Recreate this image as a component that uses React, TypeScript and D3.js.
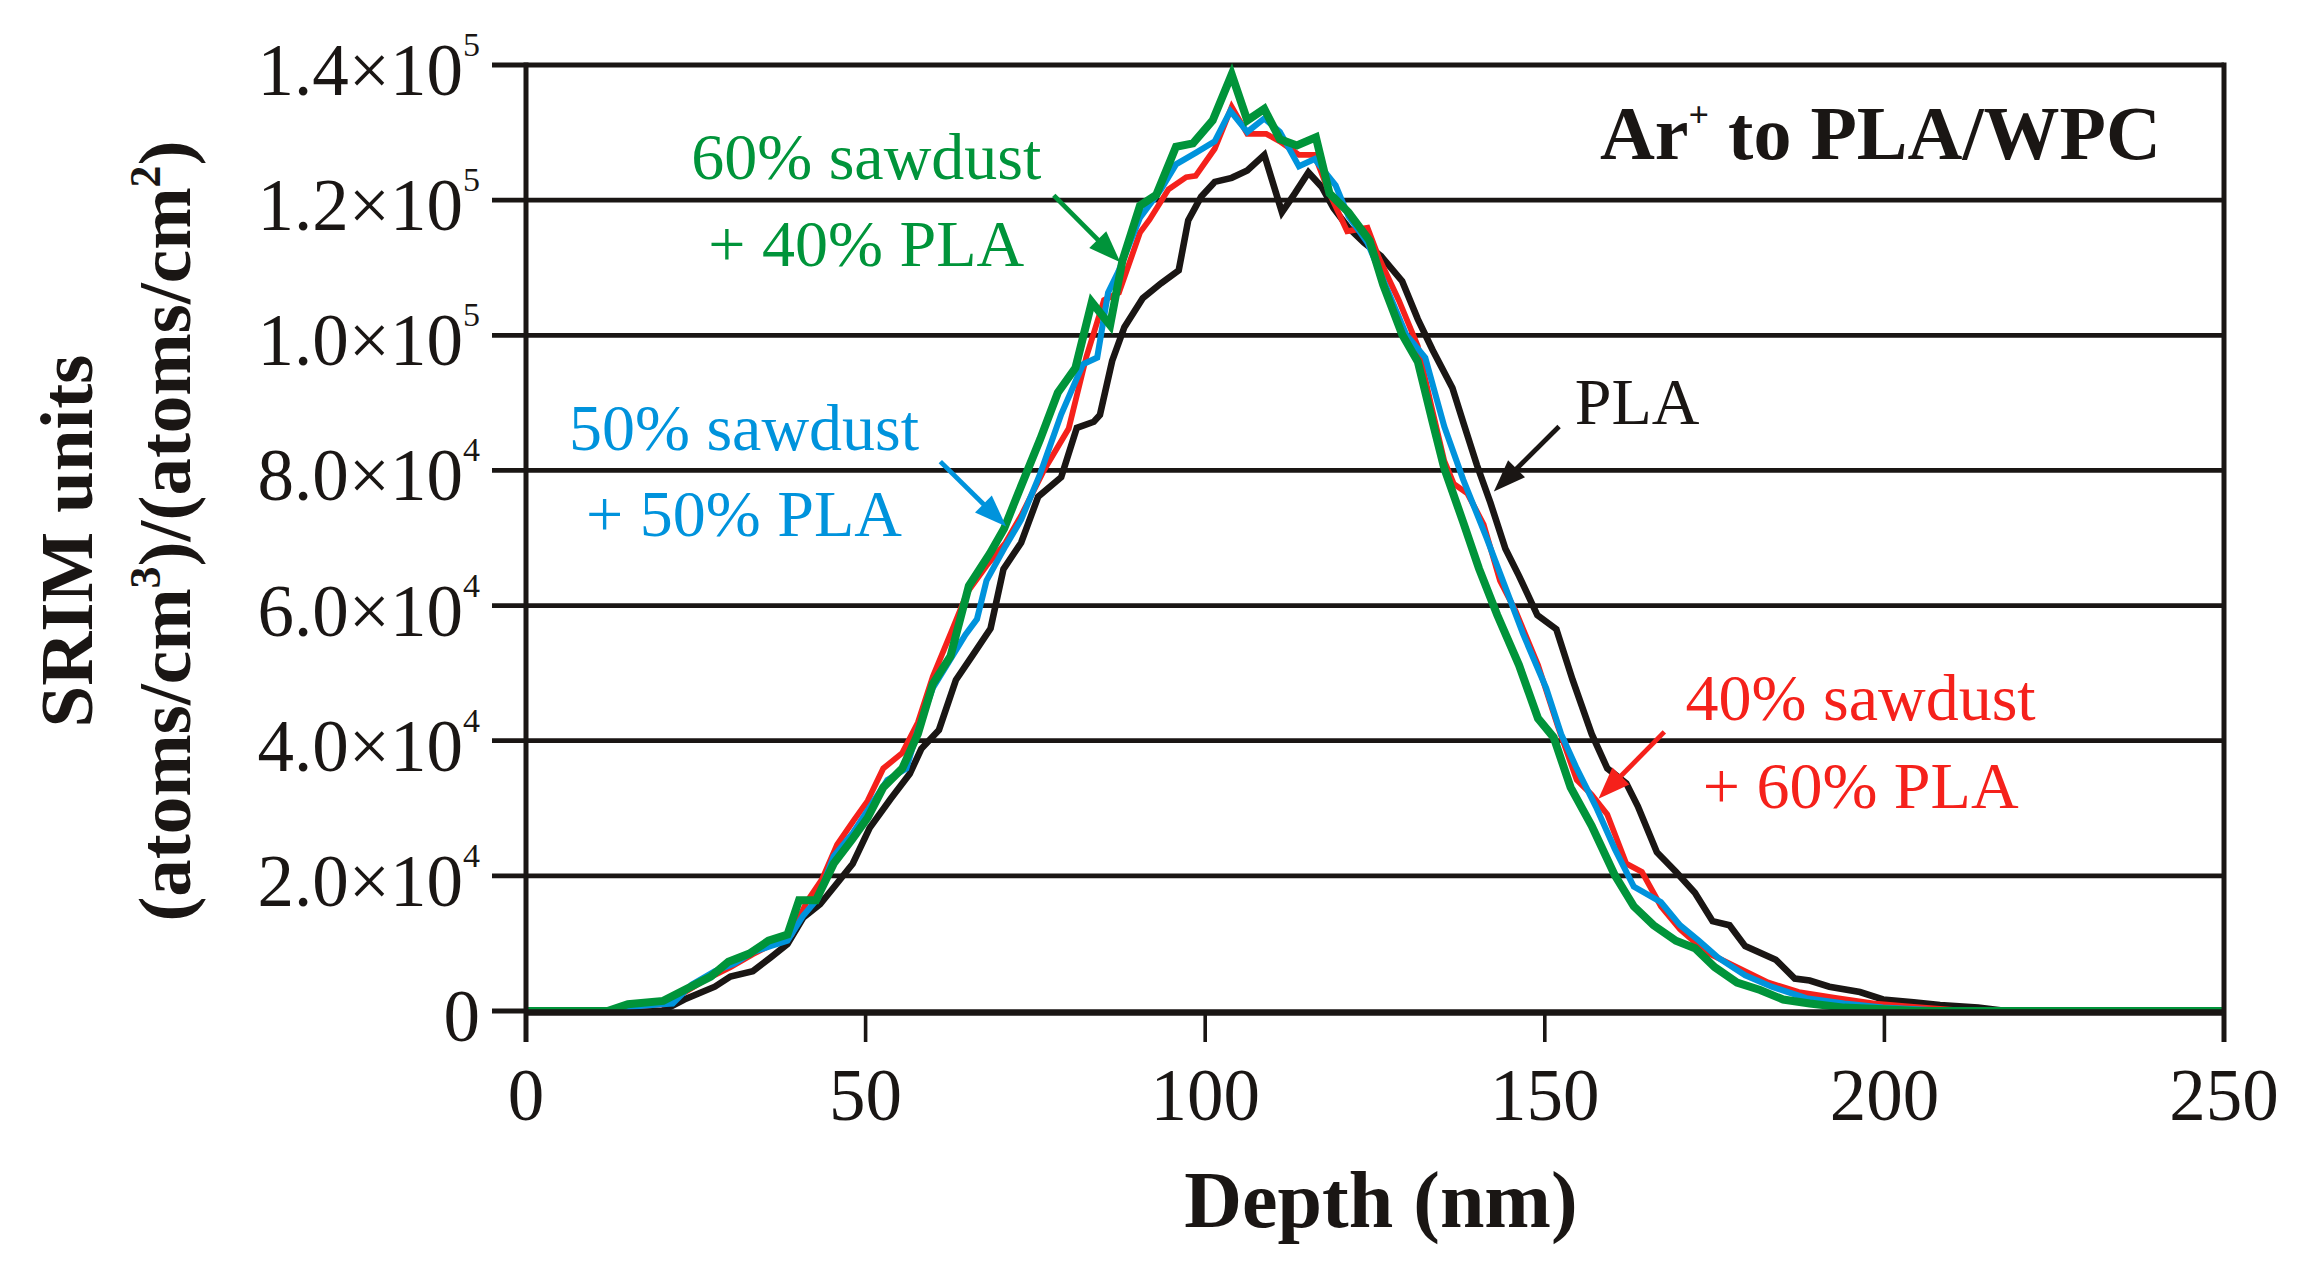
import React from "react";
import * as d3 from "d3";

// ---- data (depth in nm, SRIM value) ----
const xTicks = [0, 50, 100, 150, 200, 250];
const yTicks = [0, 20000, 40000, 60000, 80000, 100000, 120000, 140000];
const yTickMantissa = ["0", "2.0×10", "4.0×10", "6.0×10", "8.0×10", "1.0×10", "1.2×10", "1.4×10"];
const yTickExponent = ["", "4", "4", "4", "4", "5", "5", "5"];

const pla: [number, number][] = [
  [0, 0], [20, 0], [21.6, 800], [23.3, 1700], [27.8, 3600], [30.1, 5100], [33.4, 5900], [36.0, 7900],
  [38.5, 9900], [40.8, 13800], [43.3, 15800], [45.8, 18900], [48.1, 21800], [50.6, 27100], [53.7, 31400],
  [56.5, 35100], [58.2, 38800], [60.8, 41600], [63.3, 49000], [65.8, 52700], [68.4, 56600], [70.3, 65400],
  [72.9, 69300], [75.4, 76100], [78.8, 79000], [81.1, 86300], [83.6, 87200], [84.5, 88200], [86.3, 96200],
  [88.1, 101200], [90.8, 105500], [93.5, 107700], [96.1, 109600], [97.5, 117000], [99.4, 120500],
  [101.4, 122700], [103.9, 123300], [106.2, 124400], [108.7, 126700], [111.3, 118200], [113.2, 121000],
  [115.2, 124100], [117.2, 121900], [118.9, 118800], [121.1, 115900], [123.4, 113700], [125.9, 111700],
  [129.0, 108000], [131.3, 102400], [133.5, 97800], [136.4, 92200], [138.0, 87100], [140.0, 80800],
  [142.0, 75200], [144.2, 68400], [146.2, 64400], [148.9, 58600], [151.7, 56500], [154.1, 49000],
  [156.9, 41000], [159.2, 35900], [162.0, 33700], [163.7, 30300], [166.5, 23500], [169.3, 20600],
  [172.1, 17500], [174.7, 13300], [177.2, 12700], [179.5, 9600], [184.0, 7600], [186.8, 4800],
  [189.0, 4500], [191.9, 3600], [196.4, 2800], [199.8, 1700], [204.3, 1300], [208.2, 900], [213.8, 500],
  [218, 0], [250, 0],
];

const sawdust40: [number, number][] = [
  [0, 0], [12, 0], [15, 600], [20.5, 1000], [26.7, 4800], [30.1, 6500], [33.4, 8400], [36.3, 9900],
  [39.1, 11300], [41.3, 16100], [43.6, 19500], [45.8, 24600], [48.1, 28000], [50.3, 31100], [52.6, 35900],
  [55.4, 38200], [57.7, 42700], [59.9, 49500], [62.7, 56300], [65.0, 62000], [67.8, 65900], [70.6, 69300],
  [72.9, 73300], [76.3, 80100], [79.9, 86200], [82.5, 96800], [85.1, 105200], [87.3, 106300],
  [90.4, 115200], [91.8, 117100], [94.6, 121600], [97.2, 123400], [98.6, 123600], [101.4, 127600],
  [103.9, 133800], [106.2, 129800], [109.0, 129800], [111.0, 128700], [113.8, 126700], [116.1, 126700],
  [118.3, 121000], [120.9, 115400], [123.9, 115900], [125.6, 111400], [128.5, 105200], [131.3, 98400],
  [133.3, 89500], [135.2, 81400], [136.6, 78000], [138.6, 76600], [141.0, 72000], [143.4, 63700],
  [145.7, 59200], [149.0, 51200], [151.9, 42200], [154.7, 34200], [156.9, 32000], [159.2, 29100],
  [162.0, 21800], [164.3, 20600], [167.1, 15500], [169.9, 12100], [173.8, 8700], [177.2, 7000],
  [182.9, 4200], [187.4, 2800], [193.0, 1900], [198.6, 1100], [204.3, 600], [208.2, 300], [212, 0], [250, 0],
];

const sawdust50: [number, number][] = [
  [0, 0], [12, 0], [15, 600], [20, 1000], [21.6, 1100], [24.4, 3900], [27.8, 5900], [30.6, 7000],
  [33.4, 8700], [36.0, 9600], [38.5, 10400], [40.8, 14100], [43.0, 16700], [45.3, 22900], [48.1, 26300],
  [50.3, 29700], [53.2, 34200], [56.0, 35900], [57.7, 41600], [59.9, 47800], [62.7, 52400], [64.7, 55700],
  [66.4, 58000], [67.8, 63700], [70.6, 68800], [72.9, 72700], [75.7, 79500], [78.8, 88300], [82.0, 95700],
  [84.1, 96700], [85.7, 106300], [87.2, 109400], [90.4, 117400], [93.5, 121600], [95.7, 125300],
  [98.6, 127000], [101.4, 128700], [103.7, 133200], [106.2, 130100], [108.7, 132100], [111.0, 130100],
  [113.8, 125000], [116.1, 126100], [119.2, 122200], [121.1, 117600], [123.9, 113700], [126.5, 107500],
  [129.6, 100100], [132.4, 96700], [135.2, 86500], [138.0, 78600], [141.4, 70100], [143.4, 64800],
  [146.8, 55800], [150.2, 47800], [152.4, 41000], [154.7, 35900], [157.5, 30300], [160.3, 24000],
  [163.1, 18400], [167.1, 16100], [169.9, 12700], [172.7, 10400], [175.5, 7900], [179.5, 5300],
  [183.4, 3600], [188.5, 1900], [194.1, 1100], [199.8, 500], [205.4, 200], [210, 0], [250, 0],
];

const sawdust60: [number, number][] = [
  [0, 0], [12, 0], [15, 1000], [20.2, 1500], [27.2, 5100], [29.8, 7300], [32.9, 8500], [35.7, 10400],
  [38.5, 11300], [40.2, 16400], [42.7, 16400], [45.3, 21800], [48.1, 25500], [50.3, 28600], [52.6, 33100],
  [55.4, 35900], [57.7, 41000], [59.9, 48400], [62.5, 52500], [65.2, 62900], [68.3, 67700], [70.4, 71400],
  [72.5, 76700], [75.7, 84600], [78.3, 91500], [80.9, 95200], [83.3, 104900], [86.0, 101500],
  [87.8, 111000], [90.4, 119200], [92.8, 120800], [95.7, 127900], [98.2, 128400], [101.1, 131800],
  [103.9, 138600], [106.2, 131800], [108.7, 133500], [111.0, 129000], [113.5, 128100], [116.3, 129300],
  [118.3, 121000], [121.1, 118200], [124.2, 114000], [126.2, 107500], [129.0, 100100], [131.3, 96100],
  [133.5, 87100], [135.2, 80300], [138.0, 72300], [140.3, 65500], [143.0, 58600], [146.2, 51200],
  [149.0, 43300], [151.3, 40500], [153.8, 33100], [156.9, 27400], [160.3, 20100], [163.1, 15500],
  [166.0, 12700], [169.3, 10400], [172.1, 9300], [175.0, 6500], [178.3, 4200], [181.7, 3100],
  [185.1, 1700], [189.0, 1100], [194.1, 500], [201.4, 200], [205, 0], [250, 0],
];

const seriesNames = ["PLA", "40% sawdust + 60% PLA", "50% sawdust + 50% PLA", "60% sawdust + 40% PLA"];
const seriesData = [pla, sawdust40, sawdust50, sawdust60];
const seriesColors = ["#1a1614", "#f5211b", "#0093dc", "#00943a"];
const seriesWidths = [6.6, 5.8, 6.1, 8.0];

// annotation labels, anchored in data units (depth, value)
const labelLines = [
  { lines: ["60% sawdust", "+ 40% PLA"], x: 50.1, y: [123100, 110300], color: "#00943a" },
  { lines: ["50% sawdust", "+ 50% PLA"], x: 32.1, y: [83000, 70300], color: "#0093dc" },
  { lines: ["40% sawdust", "+ 60% PLA"], x: 196.5, y: [43100, 30000], color: "#f5211b" },
];
const arrows = [
  { from: [77.7, 120700], to: [87.5, 110800], color: "#00943a" },
  { from: [61.0, 81300], to: [70.7, 71700], color: "#0093dc" },
  { from: [167.6, 41300], to: [157.9, 31400], color: "#f5211b" },
  { from: [152.1, 86500], to: [142.5, 76900], color: "#1a1614" },
];
const plaLabel = { text: "PLA", x: 154.4, y: 86800 };
const titlePos = { x: 240.7, y: 126100 };

const W = 2313;
const H = 1283;
const M = { left: 526, right: 2224, top: 65, bottom: 1011 };
const FONT = "'Liberation Serif', 'Times New Roman', serif";
const INK = "#1a1614";

export default function App() {
  const x = d3.scaleLinear().domain([0, 250]).range([M.left, M.right]);
  const y = d3.scaleLinear().domain([0, 140000]).range([M.bottom, M.top]);
  const line = d3
    .line<[number, number]>()
    .x((d) => x(d[0]))
    .y((d) => y(d[1]));

  const arrowHead = (fx: number, fy: number, tx: number, ty: number) => {
    const ang = Math.atan2(ty - fy, tx - fx);
    const len = 32;
    const half = 12;
    const bx = tx - len * Math.cos(ang);
    const by = ty - len * Math.sin(ang);
    const px = -Math.sin(ang) * half;
    const py = Math.cos(ang) * half;
    return `M${tx},${ty}L${bx + px},${by + py}L${bx - px},${by - py}Z`;
  };

  return (
    <svg
      width={W}
      height={H}
      viewBox={`0 0 ${W} ${H}`}
      style={{ position: "absolute", left: 0, top: 0, background: "#fff" }}
      fontFamily={FONT}
    >
      <rect x={0} y={0} width={W} height={H} fill="#fff" />

      {/* gridlines + left ticks */}
      {yTicks.slice(1).map((t) => (
        <line key={`g${t}`} x1={M.left - 34} x2={M.right} y1={y(t)} y2={y(t)} stroke={INK} strokeWidth={4.8} />
      ))}
      <line x1={M.left - 34} x2={M.left} y1={y(0)} y2={y(0)} stroke={INK} strokeWidth={4.8} />

      {/* bottom ticks */}
      {xTicks.map((t) => (
        <line key={`xt${t}`} x1={x(t)} x2={x(t)} y1={M.bottom} y2={M.bottom + 31} stroke={INK} strokeWidth={3.6} />
      ))}

      {/* series */}
      {seriesData.map((s, i) => (
        <path
          key={seriesNames[i]}
          d={line(s) || ""}
          fill="none"
          stroke={seriesColors[i]}
          strokeWidth={seriesWidths[i]}
          strokeLinejoin="miter"
          strokeMiterlimit={3}
        />
      ))}

      {/* axes frame */}
      <line x1={M.left} x2={M.right} y1={M.bottom + 1.5} y2={M.bottom + 1.5} stroke={INK} strokeWidth={6.5} />
      <line x1={M.left} x2={M.left} y1={M.top - 2.4} y2={M.bottom + 31} stroke={INK} strokeWidth={5} />
      <line x1={M.right} x2={M.right} y1={M.top - 2.4} y2={M.bottom + 31} stroke={INK} strokeWidth={5} />

      {/* y tick labels */}
      {yTicks.map((t, i) => (
        <text key={`yl${t}`} x={480} y={y(t) + 30} textAnchor="end" fontSize={73} fill={INK}>
          {yTickMantissa[i]}
          {yTickExponent[i] && (
            <tspan fontSize={34} dy={-39}>
              {yTickExponent[i]}
            </tspan>
          )}
        </text>
      ))}

      {/* x tick labels */}
      {xTicks.map((t) => (
        <text key={`xl${t}`} x={x(t)} y={1120} textAnchor="middle" fontSize={73} fill={INK}>
          {t}
        </text>
      ))}

      {/* axis titles */}
      <text x={(M.left + M.right) / 2 + 6} y={1227} textAnchor="middle" fontSize={80} fontWeight="bold" fill={INK}>
        Depth (nm)
      </text>
      <text transform={`translate(92,541) rotate(-90)`} textAnchor="middle" fontSize={75} fontWeight="bold" fill={INK}>
        SRIM units
      </text>
      <text transform={`translate(190,531) rotate(-90)`} textAnchor="middle" fontSize={75} fontWeight="bold" fill={INK}>
        (atoms/cm
        <tspan fontSize={44} dy={-30}>
          3
        </tspan>
        <tspan dy={30}>)/(atoms/cm</tspan>
        <tspan fontSize={44} dy={-30}>
          2
        </tspan>
        <tspan dy={30}>)</tspan>
      </text>

      {/* title */}
      <text x={x(titlePos.x)} y={y(titlePos.y)} textAnchor="end" fontSize={76} fontWeight="bold" fill={INK}>
        Ar
        <tspan fontSize={36} dy={-32}>
          +
        </tspan>
        <tspan dy={32}> to PLA/WPC</tspan>
      </text>

      {/* annotations */}
      {labelLines.map((l) =>
        l.lines.map((txt, j) => (
          <text key={txt + l.color} x={x(l.x)} y={y(l.y[j])} textAnchor="middle" fontSize={66} fill={l.color}>
            {txt}
          </text>
        ))
      )}
      <text x={x(plaLabel.x)} y={y(plaLabel.y)} fontSize={66} fill={INK}>
        {plaLabel.text}
      </text>
      {arrows.map((a, i) => {
        const fx = x(a.from[0]);
        const fy = y(a.from[1]);
        const tx = x(a.to[0]);
        const ty = y(a.to[1]);
        const ang = Math.atan2(ty - fy, tx - fx);
        return (
          <g key={`ar${i}`}>
            <line
              x1={fx}
              y1={fy}
              x2={tx - 26 * Math.cos(ang)}
              y2={ty - 26 * Math.sin(ang)}
              stroke={a.color}
              strokeWidth={4.8}
            />
            <path d={arrowHead(fx, fy, tx, ty)} fill={a.color} />
          </g>
        );
      })}
    </svg>
  );
}
